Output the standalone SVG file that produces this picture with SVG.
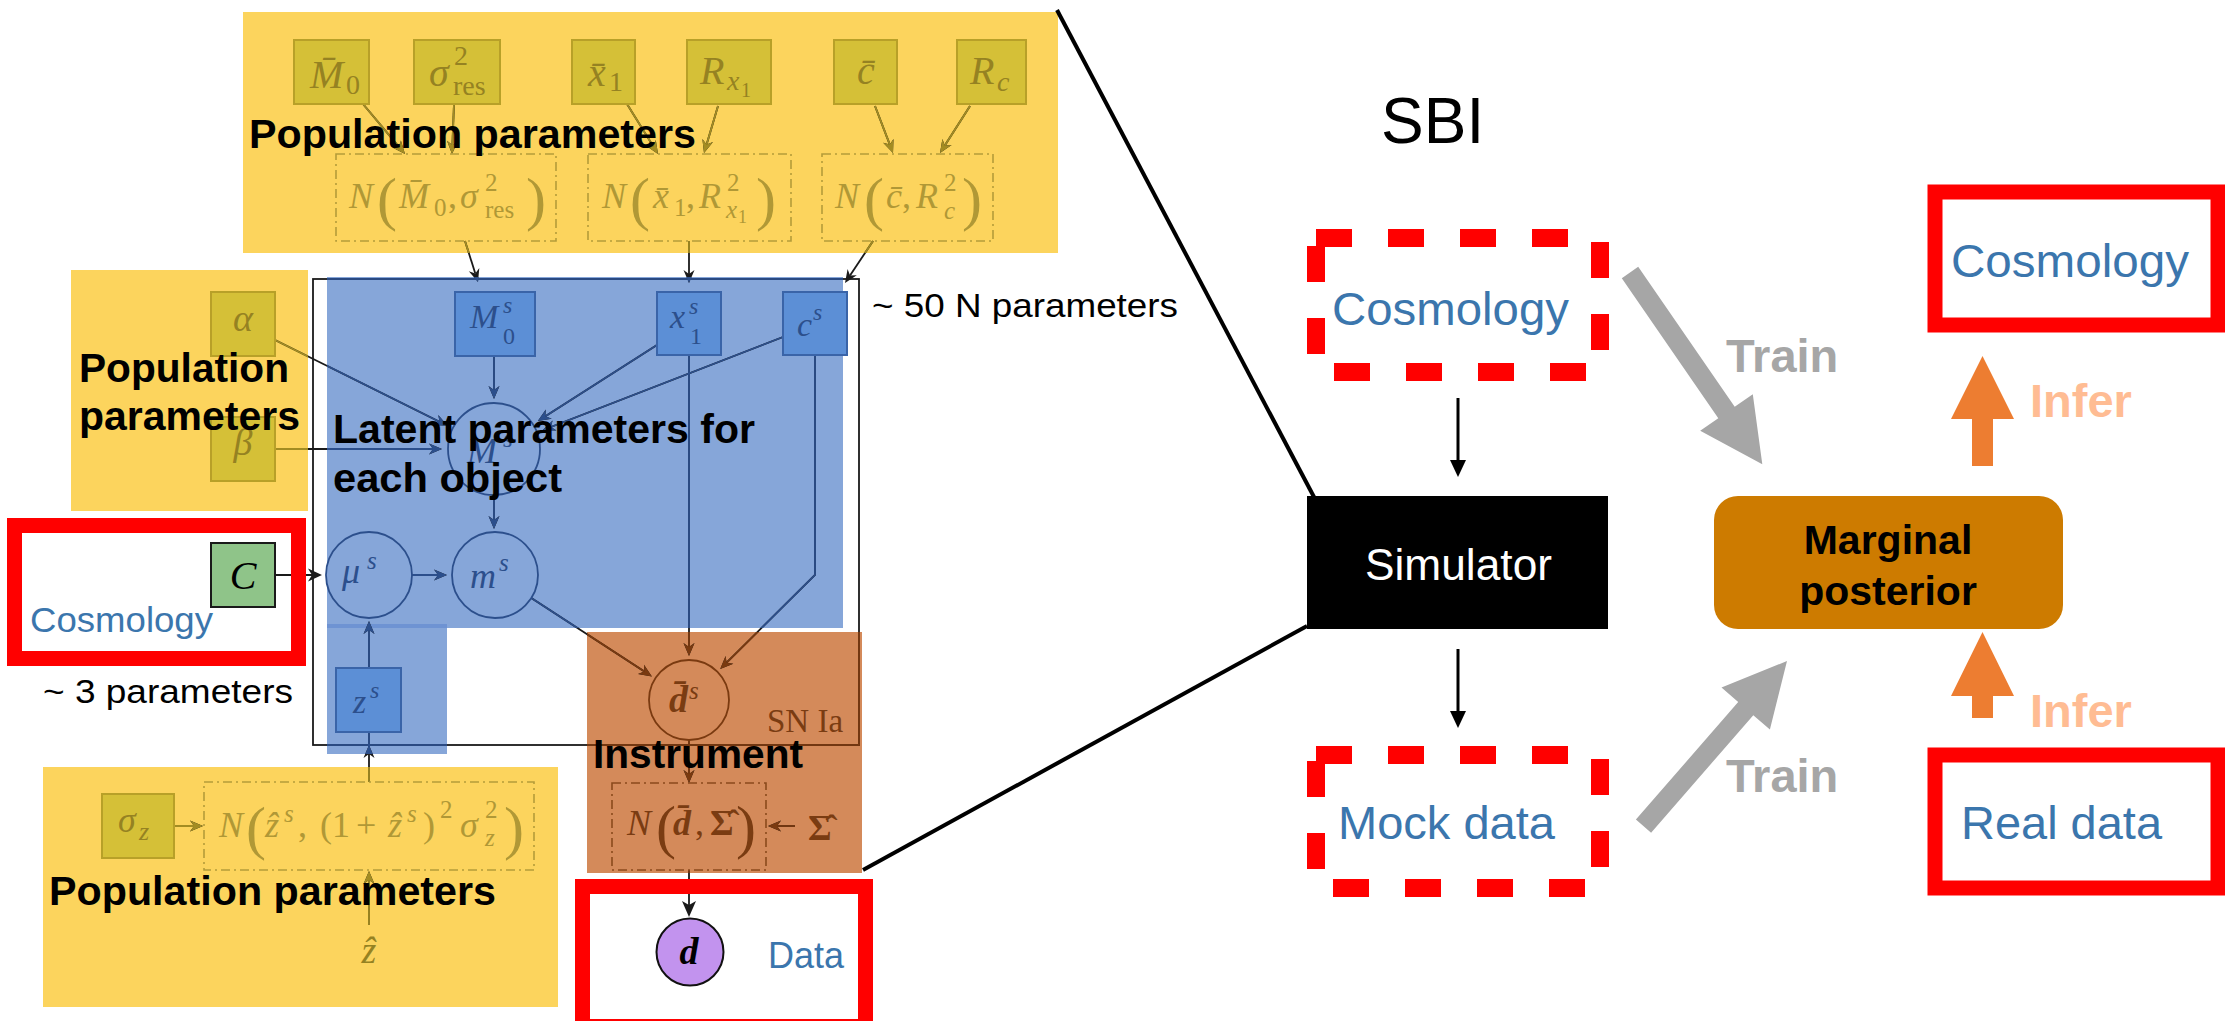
<svg xmlns="http://www.w3.org/2000/svg" width="2225" height="1021" viewBox="0 0 2225 1021">
<style>
.sans{font-family:"Liberation Sans",Arial,sans-serif}
.lbl{font-family:"Liberation Sans",Arial,sans-serif;fill:#000}
.bl{font-weight:bold}
.blt{font-family:"Liberation Sans",Arial,sans-serif;fill:#3b76ad}
.mi{font-family:"Liberation Serif","Times New Roman",serif;font-style:italic}
.mn{font-style:normal}
.ysq{fill:#d5c037;stroke:#b8a028;stroke-width:2}
.yt{fill:#958222}
.yf{fill:#b09836}
.ydd{fill:none;stroke:#b49c3a;stroke-width:1.6;stroke-dasharray:9 4 2 4}
.odd{fill:none;stroke:#8a4a1c;stroke-width:1.6;stroke-dasharray:9 4 2 4}
.bsq{fill:#5c8fd6;stroke:#3a64a8;stroke-width:2}
.bt{fill:#2c4f8c}
.bc{fill:none;stroke:#2c4f8c;stroke-width:1.8}
.ot{fill:#7a3c12}
.red{fill:none;stroke:#ff0000;stroke-width:15}
.rdash{fill:none;stroke:#ff0000;stroke-width:18;stroke-dasharray:36 36}
.ah{stroke:none}
.blk{stroke:#000;stroke-width:3}
</style>
<defs>
<clipPath id="cY"><rect x="243" y="12" width="815" height="241"/><rect x="71" y="270" width="237" height="241"/><rect x="43" y="767" width="515" height="240"/></clipPath>
<clipPath id="cB"><rect x="327" y="277" width="516" height="351"/><rect x="327" y="624" width="120" height="130"/></clipPath>
<clipPath id="cO"><rect x="587" y="632" width="275" height="241"/></clipPath>
<g id="wires" stroke-width="1.8">
<rect x="313" y="279" width="546" height="466" fill="none"/>
<line x1="465" y1="241" x2="475.3" y2="273.4"/>
<polygon class="ah" points="478,282 468.8,271.3 475.3,273.4 479.3,268"/>
<line x1="689" y1="241" x2="689" y2="274"/>
<polygon class="ah" points="689,283 683.5,270 689,274 694.5,270"/>
<line x1="873" y1="241" x2="850" y2="275.5"/>
<polygon class="ah" points="845,283 847.6,269.1 850,275.5 856.8,275.2"/>
<line x1="494" y1="356" x2="494" y2="390"/>
<polygon class="ah" points="494,399 488.5,386 494,390 499.5,386"/>
<line x1="275" y1="340" x2="439.5" y2="421.8"/>
<polygon class="ah" points="447.5,425.8 433.4,424.9 439.5,421.8 438.3,415.1"/>
<line x1="275" y1="449" x2="433" y2="449"/>
<polygon class="ah" points="442,449 429,454.5 433,449 429,443.5"/>
<line x1="657" y1="345" x2="545.4" y2="416.2"/>
<polygon class="ah" points="537.8,421 545.8,409.4 545.4,416.2 551.7,418.7"/>
<line x1="783" y1="337" x2="550.9" y2="427"/>
<polygon class="ah" points="542.5,430.2 552.6,420.4 550.9,427 556.6,430.6"/>
<line x1="494" y1="495" x2="494" y2="520"/>
<polygon class="ah" points="494,529 488.5,516 494,520 499.5,516"/>
<line x1="412" y1="575" x2="438" y2="575"/>
<polygon class="ah" points="447,575 434,569.5 438,575 434,580.5"/>
<line x1="369" y1="668" x2="369" y2="630"/>
<polygon class="ah" points="369,621 363.5,634 369,630 374.5,634"/>
<line x1="275" y1="575" x2="313" y2="575"/>
<polygon class="ah" points="322,575 308,568.5 312,575 308,581.5"/>
<line x1="531.3" y1="598" x2="644.4" y2="671.5"/>
<polygon class="ah" points="651.9,676.4 638,673.9 644.4,671.5 644,664.7"/>
<line x1="689" y1="355" x2="689" y2="647"/>
<polygon class="ah" points="689,656 683.5,643 689,647 694.5,643"/>
<polyline fill="none" points="815,355 815,575 726.6,662.7"/>
<polygon class="ah" points="720.2,669 725.6,655.9 726.6,662.7 733.3,663.8"/>
<line x1="689" y1="740" x2="689" y2="774"/>
<polygon class="ah" points="689,783 683.5,770 689,774 694.5,770"/>
<line x1="795" y1="826" x2="777" y2="826"/>
<polygon class="ah" points="768,826 781,820.5 777,826 781,831.5"/>
<line x1="689" y1="870" x2="689" y2="905"/>
<polygon class="ah" points="689,917 682,901 689,905 696,901"/>
<line x1="174" y1="826" x2="194" y2="826"/>
<polygon class="ah" points="203,826 190,820.5 194,826 190,831.5"/>
<line x1="369" y1="925" x2="369" y2="880"/>
<polygon class="ah" points="369,871 363.5,884 369,880 374.5,884"/>
<line x1="369" y1="782" x2="369" y2="733"/>
<polygon class="ah" points="369,745 363.5,758 369,754 374.5,758"/>
<line x1="363" y1="104" x2="399.2" y2="147.1"/>
<polygon class="ah" points="405,154 392.4,147.6 399.2,147.1 400.9,140.5"/>
<line x1="454" y1="104" x2="452.4" y2="145"/>
<polygon class="ah" points="452,154 447,140.8 452.4,145 458,141.2"/>
<line x1="627" y1="104" x2="653.3" y2="146.4"/>
<polygon class="ah" points="658,154 646.5,145.9 653.3,146.4 655.8,140.1"/>
<line x1="718" y1="106" x2="706.6" y2="144.4"/>
<polygon class="ah" points="704,153 702.4,139 706.6,144.4 713,142.1"/>
<line x1="875" y1="106" x2="889.8" y2="144.6"/>
<polygon class="ah" points="893,153 883.2,142.8 889.8,144.6 893.5,138.9"/>
<line x1="970" y1="106" x2="944.8" y2="145.4"/>
<polygon class="ah" points="940,153 942.4,139.1 944.8,145.4 951.6,145"/>
</g>
</defs>

<rect x="0" y="0" width="2225" height="1021" fill="#ffffff"/>

<g id="overlays">
<rect x="243" y="12" width="815" height="241" fill="#fcd45d"/>
<rect x="71" y="270" width="237" height="241" fill="#fcd45d"/>
<rect x="43" y="767" width="515" height="240" fill="#fcd45d"/>
<rect x="327" y="277" width="516" height="351" fill="#86a6d9"/>
<rect x="327" y="628" width="120" height="126" fill="#86a6d9"/>
<rect x="327" y="624" width="120" height="4" fill="#6e93d3"/>
<rect x="587" y="632" width="275" height="241" fill="#d48a5a"/>
</g>

<g id="connectors">
<use href="#wires" stroke="#1a1a1a" fill="#1a1a1a"/>
<use href="#wires" stroke="#a38c22" fill="#a38c22" clip-path="url(#cY)"/>
<use href="#wires" stroke="#2c4f8c" fill="#2c4f8c" clip-path="url(#cB)"/>
<use href="#wires" stroke="#7a3a10" fill="#7a3a10" clip-path="url(#cO)"/>
<line x1="1057" y1="10" x2="1314" y2="497" stroke="#000" stroke-width="4"/>
<line x1="1307" y1="626" x2="863" y2="870" stroke="#000" stroke-width="4"/>
<line class="blk" x1="1458" y1="398" x2="1458" y2="462"/>
<polygon points="1450,460 1466,460 1458,477" fill="#000"/>
<line class="blk" x1="1458" y1="649" x2="1458" y2="713"/>
<polygon points="1450,711 1466,711 1458,728" fill="#000"/>
<polygon fill="#a6a6a6" points="1621.8,278.2 1718.3,418.2 1700.2,430.7 1762.3,464.3 1752.8,394.3 1734.7,406.8 1638.2,266.8"/>
<polygon fill="#a6a6a6" points="1635.9,819.6 1738.2,702 1721.5,687.6 1787,661 1769.9,729.6 1753.3,715.2 1651.1,832.8"/>
<polygon fill="#ed7d31" points="1972,466 1972,419 1951,419 1982.5,356 2014,419 1993,419 1993,466"/>
<polygon fill="#ed7d31" points="1972,718 1972,696 1951,696 1982.5,632 2014,696 1993,696 1993,718"/>
</g>

<!-- top population nodes -->
<g id="node-M0bar"><rect class="ysq" x="294" y="40" width="75" height="64"/>
<text class="mi yt" font-size="40"><tspan x="310" y="88">M&#x304;</tspan><tspan class="mn" x="346" y="94" font-size="28">0</tspan></text></g>
<g id="node-sigmares"><rect class="ysq" x="414" y="40" width="86" height="64"/>
<text class="mi yt" font-size="40"><tspan x="429" y="86">σ</tspan><tspan class="mn" x="454" y="65" font-size="28">2</tspan><tspan class="mn" x="453" y="95" font-size="28">res</tspan></text></g>
<g id="node-x1bar"><rect class="ysq" x="572" y="40" width="63" height="64"/>
<text class="mi yt" font-size="40"><tspan x="588" y="86">x&#x304;</tspan><tspan class="mn" x="609" y="91" font-size="28">1</tspan></text></g>
<g id="node-Rx1"><rect class="ysq" x="687" y="40" width="84" height="64"/>
<text class="mi yt" font-size="40"><tspan x="700" y="84">R</tspan><tspan x="727" y="90" font-size="28">x</tspan><tspan class="mn" x="741" y="97" font-size="20">1</tspan></text></g>
<g id="node-cbar"><rect class="ysq" x="834" y="40" width="63" height="64"/>
<text class="mi yt" font-size="40"><tspan x="857" y="84">c&#x304;</tspan></text></g>
<g id="node-Rc"><rect class="ysq" x="957" y="40" width="69" height="64"/>
<text class="mi yt" font-size="40"><tspan x="970" y="84">R</tspan><tspan x="997" y="91" font-size="28">c</tspan></text></g>

<g id="node-N-M0">
<rect class="ydd" x="336" y="154" width="220" height="87"/>
<text class="mi yf" font-size="36"><tspan x="349" y="208">N</tspan><tspan class="mn" x="377" y="219" font-size="60">(</tspan><tspan x="399" y="208">M&#x304;</tspan><tspan class="mn" x="434" y="216" font-size="25">0</tspan><tspan class="mn" x="448" y="208">,</tspan><tspan x="460" y="208">σ</tspan><tspan class="mn" x="485" y="191" font-size="25">2</tspan><tspan class="mn" x="485" y="218" font-size="25">res</tspan><tspan class="mn" x="526" y="219" font-size="60">)</tspan></text>
</g>
<g id="node-N-x1">
<rect class="ydd" x="588" y="154" width="203" height="87"/>
<text class="mi yf" font-size="36"><tspan x="602" y="208">N</tspan><tspan class="mn" x="630" y="219" font-size="60">(</tspan><tspan x="653" y="208">x&#x304;</tspan><tspan class="mn" x="674" y="216" font-size="25">1</tspan><tspan class="mn" x="686" y="208">,</tspan><tspan x="699" y="208">R</tspan><tspan class="mn" x="727" y="191" font-size="25">2</tspan><tspan x="726" y="218" font-size="25">x</tspan><tspan class="mn" x="738" y="223" font-size="18">1</tspan><tspan class="mn" x="756" y="219" font-size="60">)</tspan></text>
</g>
<g id="node-N-c">
<rect class="ydd" x="822" y="154" width="171" height="87"/>
<text class="mi yf" font-size="36"><tspan x="835" y="208">N</tspan><tspan class="mn" x="864" y="219" font-size="60">(</tspan><tspan x="886" y="208">c&#x304;</tspan><tspan class="mn" x="902" y="208">,</tspan><tspan x="916" y="208">R</tspan><tspan class="mn" x="944" y="191" font-size="25">2</tspan><tspan x="944" y="219" font-size="25">c</tspan><tspan class="mn" x="962" y="219" font-size="60">)</tspan></text>
</g>

<!-- left population -->
<g id="node-alpha"><rect class="ysq" x="211" y="292" width="64" height="64"/><text class="mi yt" font-size="38" x="243" y="331" text-anchor="middle">α</text></g>
<g id="node-beta"><rect class="ysq" x="211" y="417" width="64" height="64"/><text class="mi yt" font-size="38" x="243" y="455" text-anchor="middle">β</text></g>

<!-- latent nodes -->
<g id="node-M0s"><rect class="bsq" x="455" y="292" width="80" height="64"/>
<text class="mi bt" font-size="34"><tspan x="470" y="328">M</tspan><tspan x="503" y="313" font-size="24">s</tspan><tspan class="mn" x="503" y="344" font-size="24">0</tspan></text></g>
<g id="node-x1s"><rect class="bsq" x="657" y="292" width="64" height="63"/>
<text class="mi bt" font-size="34"><tspan x="670" y="328">x</tspan><tspan x="689" y="314" font-size="24">s</tspan><tspan class="mn" x="690" y="344" font-size="24">1</tspan></text></g>
<g id="node-cs"><rect class="bsq" x="783" y="292" width="64" height="63"/>
<text class="mi bt" font-size="34"><tspan x="797" y="336">c</tspan><tspan x="813" y="320" font-size="24">s</tspan></text></g>
<g id="node-Ms"><circle class="bc" cx="494" cy="449" r="46"/>
<text class="mi bt" font-size="36"><tspan x="467" y="463">M</tspan><tspan x="503" y="447" font-size="25">s</tspan></text></g>
<g id="node-mus"><circle class="bc" cx="369" cy="575" r="43"/>
<text class="mi bt" font-size="36"><tspan x="342" y="583">μ</tspan><tspan x="367" y="569" font-size="25">s</tspan></text></g>
<g id="node-ms"><circle class="bc" cx="495" cy="575" r="43"/>
<text class="mi bt" font-size="36"><tspan x="470" y="588">m</tspan><tspan x="499" y="571" font-size="25">s</tspan></text></g>
<g id="node-zs"><rect class="bsq" x="336" y="668" width="65" height="64"/>
<text class="mi bt" font-size="34"><tspan x="353" y="713">z</tspan><tspan x="370" y="698" font-size="24">s</tspan></text></g>

<!-- cosmology left -->
<g id="node-cosmo-left">
<rect class="red" x="14.5" y="525.5" width="284" height="133"/>
<rect x="211" y="543" width="64" height="64" fill="#8fc489" stroke="#1a1a1a" stroke-width="2"/>
<text class="mi" font-size="40" x="243" y="589" text-anchor="middle" fill="#000">C</text>
<text class="blt" font-size="35" x="30" y="632" textLength="183" lengthAdjust="spacingAndGlyphs">Cosmology</text>
</g>

<!-- bottom population -->
<g id="node-sigmaz"><rect class="ysq" x="102" y="794" width="72" height="64"/>
<text class="mi yt" font-size="36"><tspan x="118" y="832">σ</tspan><tspan x="139" y="840" font-size="26">z</tspan></text></g>
<g id="node-N-z">
<rect class="ydd" x="204" y="782" width="330" height="88"/>
<text class="mi yf" font-size="36"><tspan x="219" y="837">N</tspan><tspan class="mn" x="246" y="848" font-size="60">(</tspan><tspan x="265" y="837">ẑ</tspan><tspan x="284" y="822" font-size="25">s</tspan><tspan class="mn" x="298" y="837">,</tspan><tspan class="mn" x="320" y="837">(1</tspan><tspan class="mn" x="356" y="837">+</tspan><tspan x="388" y="837">ẑ</tspan><tspan x="407" y="822" font-size="25">s</tspan><tspan class="mn" x="423" y="837">)</tspan><tspan class="mn" x="440" y="818" font-size="25">2</tspan><tspan x="460" y="837">σ</tspan><tspan class="mn" x="485" y="818" font-size="25">2</tspan><tspan x="485" y="846" font-size="25">z</tspan><tspan class="mn" x="504" y="848" font-size="60">)</tspan></text>
</g>
<g id="node-zhat"><text class="mi yt" font-size="38" x="369" y="963" text-anchor="middle">ẑ</text></g>

<!-- instrument -->
<g id="node-dbar"><circle cx="689" cy="700" r="40" fill="none" stroke="#7a3a10" stroke-width="1.8"/>
<text class="mi ot" font-size="38" font-weight="bold"><tspan x="669" y="712">d&#x304;</tspan><tspan x="689" y="699" font-size="25" font-weight="normal">s</tspan></text></g>
<g id="label-snia"><text class="mi mn ot" font-size="33" x="767" y="732">SN Ia</text></g>
<g id="node-N-d">
<rect class="odd" x="612" y="783" width="154" height="87"/>
<text class="mi ot" font-size="36"><tspan x="627" y="835">N</tspan><tspan class="mn" x="656" y="847" font-size="60">(</tspan><tspan x="673" y="835" font-weight="bold">d&#x304;</tspan><tspan class="mn" x="695" y="835">,</tspan><tspan class="mn" x="710" y="835" font-weight="bold">Σ&#x302;</tspan><tspan class="mn" x="736" y="847" font-size="60">)</tspan></text>
</g>
<g id="node-Sigmahat"><text class="mi mn ot" font-size="36" font-weight="bold" x="808" y="840">Σ&#x302;</text></g>

<!-- data -->
<g id="node-data">
<rect class="red" x="582.5" y="886.5" width="283" height="140"/>
<circle cx="690" cy="952" r="33.5" fill="#c293ee" stroke="#111" stroke-width="2"/>
<text class="mi" font-size="38" font-weight="bold" x="689" y="964" text-anchor="middle" fill="#000">d</text>
<text class="blt" font-size="36" x="768" y="968">Data</text>
</g>

<!-- overlay labels -->
<g id="labels">
<text class="lbl bl" font-size="40" x="249" y="148" textLength="447" lengthAdjust="spacingAndGlyphs">Population parameters</text>
<text class="lbl bl" font-size="40" x="79" y="382" textLength="210" lengthAdjust="spacingAndGlyphs">Population</text>
<text class="lbl bl" font-size="40" x="79" y="430" textLength="221" lengthAdjust="spacingAndGlyphs">parameters</text>
<text class="lbl bl" font-size="40" x="333" y="443" textLength="422" lengthAdjust="spacingAndGlyphs">Latent parameters for</text>
<text class="lbl bl" font-size="40" x="333" y="492" textLength="229" lengthAdjust="spacingAndGlyphs">each object</text>
<text class="lbl" font-size="34" x="872" y="317" textLength="306" lengthAdjust="spacingAndGlyphs">~ 50 N parameters</text>
<text class="lbl" font-size="34" x="43" y="703" textLength="250" lengthAdjust="spacingAndGlyphs">~ 3 parameters</text>
<text class="lbl bl" font-size="40" x="593" y="768" textLength="210" lengthAdjust="spacingAndGlyphs">Instrument</text>
<text class="lbl bl" font-size="40" x="49" y="905" textLength="447" lengthAdjust="spacingAndGlyphs">Population parameters</text>
</g>

<!-- SBI side -->
<g id="title-sbi"><text class="sans" font-size="64" x="1381" y="143" fill="#000">SBI</text></g>
<g id="node-cosmo-sim"><rect class="rdash" x="1316" y="238" width="284" height="134"/>
<text class="blt" font-size="47" x="1332" y="325" textLength="237" lengthAdjust="spacingAndGlyphs">Cosmology</text></g>
<g id="node-simulator"><rect x="1307" y="496" width="301" height="133" fill="#000"/>
<text class="sans" font-size="44" x="1365" y="580" fill="#fff" textLength="187" lengthAdjust="spacingAndGlyphs">Simulator</text></g>
<g id="node-mock"><rect class="rdash" x="1316" y="755" width="284" height="133"/>
<text class="blt" font-size="47" x="1338" y="839" textLength="217" lengthAdjust="spacingAndGlyphs">Mock data</text></g>
<g id="node-posterior"><rect x="1714" y="496" width="349" height="133" rx="24" fill="#cd7b00"/>
<text class="sans" font-size="41" font-weight="bold" text-anchor="middle" fill="#000"><tspan x="1888" y="554">Marginal</tspan><tspan x="1888" y="605">posterior</tspan></text></g>
<g id="node-cosmo-out"><rect class="red" x="1935" y="192" width="283" height="133"/>
<text class="blt" font-size="47" x="1951" y="277" textLength="238" lengthAdjust="spacingAndGlyphs">Cosmology</text></g>
<g id="node-real"><rect class="red" x="1935" y="755" width="283" height="133"/>
<text class="blt" font-size="47" x="1961" y="839" textLength="201" lengthAdjust="spacingAndGlyphs">Real data</text></g>
<g id="edge-labels">
<text class="sans" font-size="47" font-weight="bold" fill="#a6a6a6" x="1726" y="372">Train</text>
<text class="sans" font-size="47" font-weight="bold" fill="#a6a6a6" x="1726" y="792">Train</text>
<text class="sans" font-size="47" font-weight="bold" fill="#ffbc93" x="2030" y="417">Infer</text>
<text class="sans" font-size="47" font-weight="bold" fill="#ffbc93" x="2030" y="727">Infer</text>
</g>
</svg>
